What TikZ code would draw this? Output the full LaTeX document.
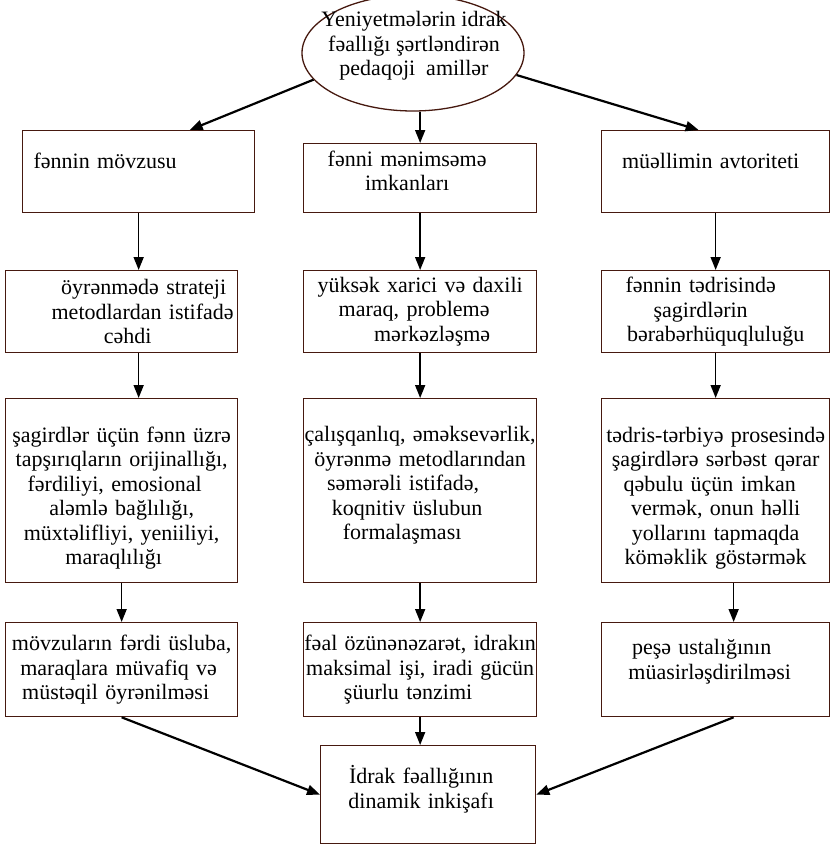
\documentclass[tikz,border=0pt]{standalone}
\usepackage{fontspec}
\setmainfont{Liberation Serif}
\usetikzlibrary{positioning,arrows.meta,shapes.geometric}
\definecolor{edge}{RGB}{70,25,15}
% struts to move text up / down inside a box
\newcommand{\up}[1]{\rule[-#1]{0pt}{#1}}
\newcommand{\down}[1]{\rule{0pt}{#1}}

\begin{document}
\begin{tikzpicture}[x=1pt, y=-1pt,
  font=\fontsize{22}{24.5}\selectfont,
  bx/.style={draw=edge, line width=1.3pt, anchor=north west, align=center,
             inner xsep=0pt, inner ysep=0pt},
  fl/.style={-{Triangle[length=13pt, width=10pt]}, line width=1.6pt},
  fld/.style={fl, line width=2.2pt}
]
\useasboundingbox (0,0) rectangle (830,846);

% top ellipse
\node[draw=edge, line width=1.3pt, ellipse, minimum width=222pt, minimum height=116pt] (top) at (413,53) {};
\node[align=center] (toptxt) at (414,46) {Yeniyetmələrin idrak\\fəallığı şərtləndirən\\pedaqoji\ \ amillər};

% row 1
\node[bx, text width=210pt, inner xsep=11pt, align=left, minimum height=82pt] (a1) at (22,130) {fənnin mövzusu\up{21pt}};
\node[bx, text width=233pt, minimum height=69pt] (b1) at (303,143) {\hspace*{-26pt}fənni mənimsəmə\\\hspace*{-26pt}imkanları\up{15pt}};
\node[bx, text width=228pt, minimum height=82pt] (c1) at (601,130) {\hspace*{-10pt}müəllimin avtoriteti\up{21pt}};

% row 2
\node[bx, text width=232pt, minimum height=82pt] (a2) at (5,270) {\hspace*{44pt}öyrənmədə strateji\\\hspace*{42pt}metodlardan istifadə\\\hspace*{12pt}cəhdi};
\node[bx, text width=233pt, minimum height=82pt] (b2) at (303,270) {yüksək xarici və daxili\\\hspace*{-12pt}maraq, problemə\\\hspace*{24pt}mərkəzləşmə};
\node[bx, text width=228pt, minimum height=82pt] (c2) at (601,270) {\hspace*{-30pt}fənnin tədrisində\\\hspace*{-30pt}şagirdlərin\\bərabərhüquqluluğu};

% row 3
\node[bx, text width=232pt, minimum height=184pt] (a3) at (5,398) {\down{30pt}şagirdlər üçün fənn üzrə\\tapşırıqların orijinallığı,\\\hspace*{-14pt}fərdiliyi, emosional\\aləmlə bağlılığı,\\müxtəlifliyi, yeniiliyi,\\\hspace*{-16pt}maraqlılığı};
\node[bx, text width=233pt, minimum height=184pt] (b3) at (303,398) {çalışqanlıq, əməksevərlik,\\öyrənmə metodlarından\\\hspace*{-34pt}səmərəli istifadə,\\\hspace*{-26pt}koqnitiv üslubun\\\hspace*{-36pt}formalaşması\up{15pt}};
\node[bx, text width=228pt, minimum height=184pt] (c3) at (601,398) {\down{30pt}tədris-tərbiyə prosesində\\şagirdlərə sərbəst qərar\\\hspace*{-12pt}qəbulu üçün imkan\\vermək, onun həlli\\yollarını tapmaqda\\köməklik göstərmək};

% row 4
\node[bx, text width=232pt, minimum height=94pt] (a4) at (5,622) {mövzuların fərdi üsluba,\\\hspace*{-6pt}maraqlara müvafiq və\\\hspace*{-12pt}müstəqil öyrənilməsi};
\node[bx, text width=233pt, minimum height=94pt] (b4) at (303,622) {fəal özünənəzarət, idrakın\\maksimal işi, iradi gücün\\\hspace*{-24pt}şüurlu tənzimi};
\node[bx, text width=228pt, minimum height=94pt] (c4) at (601,622) {\hspace*{-28pt}peşə ustalığının\\\hspace*{-12pt}müasirləşdirilməsi\up{21pt}};

% result
\node[bx, text width=215pt, minimum height=98pt] (bot) at (320,745) {\hspace*{-14pt}İdrak fəallığının\\\hspace*{-14pt}dinamik inkişafı\up{15pt}};

\draw[fld] (top.195) -- ([xshift=51pt]a1.north);
\draw[fl] (b1.north |- top.south) -- (b1.north);
\draw[fld] (top.-12) -- ([xshift=-17pt]c1.north);
\draw[fl] (a1.south) -- (a1.south |- a2.north);
\draw[fl] (a2.south -| a1.south) -- (a1.south |- a3.north);
\foreach \a/\b in {a3/a4, b1/b2, b2/b3, b3/b4, c1/c2, c2/c3} \draw[fl] (\a.south) -- (\b.north);
\draw[fl] ([xshift=18pt]c3.south) -- ([xshift=18pt]c4.north);
\draw[fld] (a4.south) -- (bot.west);
\draw[fl] (b4.south) -- (b4.south |- bot.north);
\draw[fld] ([xshift=18pt]c4.south) -- (bot.east);
\end{tikzpicture}
\end{document}
